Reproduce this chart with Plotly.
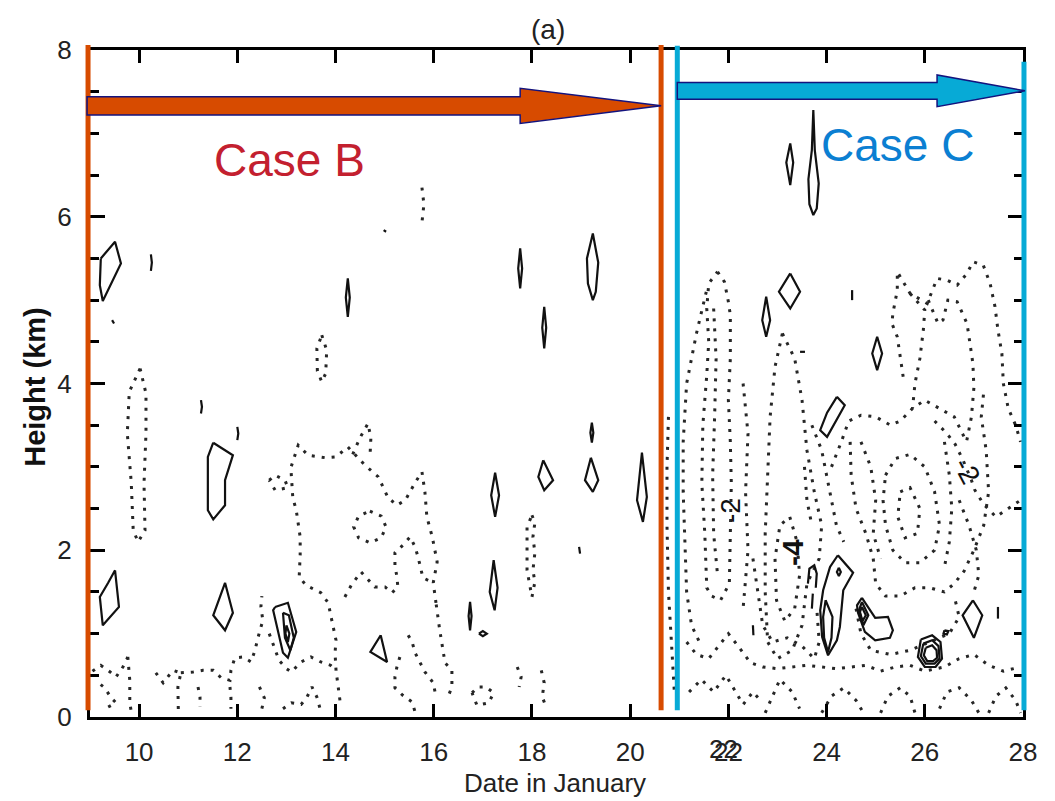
import plotly.graph_objects as go

# ---------------- axes ----------------
X_RANGE = [9, 28]
Y_RANGE = [0, 8]
x_tickvals = [10, 12, 14, 16, 18, 20, 22, 24, 26, 28]
x_ticktext = ["10", "12", "14", "16", "18", "20", "22", "24", "26", "28"]
y_tickvals = [0, 2, 4, 6, 8]
y_ticktext = ["0", "2", "4", "6", "8"]

# ---------------- solid (positive) contours: (day, km) ----------------
solid_left_top = [(9.22, 5.50), (9.51, 5.70), (9.63, 5.44), (9.26, 4.99), (9.20, 5.18), (9.22, 5.50)]
solid_left_low = [(9.51, 1.76), (9.59, 1.32), (9.26, 1.10), (9.20, 1.44), (9.37, 1.61), (9.51, 1.76)]
solid_d11_oval = [(11.51, 3.29), (11.91, 3.14), (11.75, 2.84), (11.75, 2.54), (11.51, 2.37), (11.40, 2.48), (11.40, 3.12), (11.51, 3.29)]
solid_d11_kite = [(11.75, 1.61), (11.91, 1.25), (11.75, 1.04), (11.51, 1.22), (11.75, 1.61)]
solid_d13_outer = [(12.77, 1.32), (13.03, 1.37), (13.20, 1.02), (13.03, 0.71), (12.93, 0.77), (12.73, 1.28), (12.77, 1.32)]
solid_d13_inner = [(12.93, 1.25), (13.05, 1.22), (13.15, 0.95), (13.08, 0.80), (12.97, 0.95), (12.93, 1.25)]
solid_d13_core = [(13.00, 1.10), (13.06, 1.00), (13.03, 0.90), (12.98, 1.00), (13.00, 1.10)]
solid_d15_tri = [(14.92, 0.98), (15.05, 0.66), (14.71, 0.78), (14.92, 0.98)]
solid_d14_spin = [(14.25, 5.26), (14.29, 5.03), (14.25, 4.80), (14.21, 5.03), (14.25, 5.26)]
solid_d17_spin = [(17.76, 5.62), (17.80, 5.38), (17.76, 5.14), (17.72, 5.38), (17.76, 5.62)]
solid_d18_spin = [(18.25, 4.92), (18.29, 4.67), (18.25, 4.42), (18.21, 4.67), (18.25, 4.92)]
solid_d19_oval = [(19.24, 5.80), (19.35, 5.45), (19.30, 5.10), (19.24, 5.00), (19.14, 5.20), (19.12, 5.50), (19.24, 5.80)]
solid_d19_spin = [(19.22, 3.53), (19.25, 3.41), (19.22, 3.29), (19.19, 3.41), (19.22, 3.53)]
solid_d19_kite = [(19.20, 3.11), (19.35, 2.84), (19.24, 2.70), (19.08, 2.84), (19.20, 3.11)]
solid_d20_kite = [(20.24, 3.17), (20.34, 2.64), (20.26, 2.34), (20.14, 2.60), (20.24, 3.17)]
solid_d18_kite = [(18.23, 3.08), (18.43, 2.84), (18.25, 2.72), (18.13, 2.88), (18.23, 3.08)]
solid_d17_up = [(17.25, 2.93), (17.33, 2.66), (17.25, 2.40), (17.17, 2.66), (17.25, 2.93)]
solid_d17_low = [(17.22, 1.88), (17.30, 1.55), (17.24, 1.28), (17.14, 1.50), (17.22, 1.88)]
solid_d16_spin = [(16.74, 1.38), (16.77, 1.21), (16.74, 1.04), (16.71, 1.21), (16.74, 1.38)]
solid_d17_dash = [(16.92, 1.00), (17.00, 1.03), (17.08, 1.00), (17.00, 0.97), (16.92, 1.00)]
solid_d23_tall = [(23.73, 7.28), (23.76, 6.80), (23.84, 6.40), (23.80, 6.10), (23.73, 6.02), (23.65, 6.15), (23.63, 6.45), (23.70, 6.80), (23.73, 7.28)]
solid_d23_dia1 = [(23.26, 6.88), (23.32, 6.65), (23.26, 6.38), (23.18, 6.65), (23.26, 6.88)]
solid_d23_dia2 = [(23.26, 5.32), (23.46, 5.10), (23.26, 4.90), (23.03, 5.10), (23.26, 5.32)]
solid_d22_spin = [(22.77, 5.04), (22.85, 4.76), (22.77, 4.56), (22.69, 4.76), (22.77, 5.04)]
solid_d25_spin = [(25.03, 4.56), (25.13, 4.36), (25.03, 4.16), (24.93, 4.36), (25.03, 4.56)]
solid_d24_ell = [(24.21, 3.84), (24.37, 3.74), (24.01, 3.36), (23.87, 3.44), (24.01, 3.65), (24.21, 3.84)]
solid_d24_outer = [(24.23, 1.94), (24.54, 1.73), (24.34, 1.52), (24.32, 1.37), (24.27, 1.08), (24.21, 0.92), (24.03, 0.74),
                   (23.91, 0.96), (23.87, 1.28), (23.93, 1.52), (24.03, 1.73), (24.07, 1.80), (24.23, 1.94)]
solid_d24_inner = [(23.98, 1.40), (24.12, 1.20), (24.10, 0.95), (24.03, 0.78), (23.95, 0.95), (23.93, 1.20), (23.98, 1.40)]
solid_d24_ring = [(24.25, 1.79), (24.29, 1.74), (24.25, 1.69), (24.21, 1.74), (24.25, 1.79)]
solid_d23_hook = [(23.62, 1.60), (23.65, 1.78), (23.75, 1.82), (23.80, 1.72), (23.78, 1.55)]
solid_d23_tick = [(23.72, 1.48), (23.70, 1.30)]
solid_d25_blob = [(24.72, 1.43), (24.99, 1.19), (25.25, 1.20), (25.35, 1.04), (25.29, 0.95), (24.99, 0.92),
                  (24.78, 1.02), (24.64, 1.25), (24.62, 1.34), (24.72, 1.43)]
solid_d25_h1 = [(24.72, 1.38), (24.85, 1.22), (24.75, 1.10), (24.66, 1.28), (24.72, 1.38)]
solid_d25_h2 = [(24.72, 1.32), (24.80, 1.22), (24.73, 1.15), (24.68, 1.26), (24.72, 1.32)]
solid_d26_h1 = [(25.92, 0.93), (26.15, 0.98), (26.32, 0.90), (26.35, 0.70), (26.22, 0.60), (26.00, 0.60), (25.86, 0.72), (25.92, 0.93)]
solid_d26_h2 = [(25.97, 0.88), (26.15, 0.92), (26.28, 0.85), (26.30, 0.70), (26.20, 0.64), (26.02, 0.64), (25.92, 0.73), (25.97, 0.88)]
solid_d26_h3 = [(26.02, 0.83), (26.15, 0.86), (26.24, 0.80), (26.25, 0.71), (26.17, 0.67), (26.05, 0.67), (25.98, 0.74), (26.02, 0.83)]
solid_d26_dot = [(26.40, 1.04), (26.48, 1.03), (26.45, 0.99), (26.38, 1.00), (26.40, 1.04)]
solid_d27_dia = [(26.98, 1.40), (27.17, 1.22), (27.00, 0.95), (26.77, 1.22), (26.98, 1.40)]
solid_small_1 = [(10.24, 5.55), (10.26, 5.45), (10.24, 5.35)]
solid_small_2 = [(11.26, 3.80), (11.28, 3.72), (11.26, 3.64)]
solid_small_3 = [(12.00, 3.48), (12.02, 3.40), (12.00, 3.32)]
solid_small_4 = [(9.45, 4.76), (9.49, 4.72)]
solid_small_5 = [(14.98, 5.84), (15.03, 5.82)]
solid_small_6 = [(18.96, 2.04), (18.98, 1.96)]
solid_small_7 = [(22.50, 1.10), (22.51, 0.98)]
solid_small_8 = [(23.46, 4.38), (23.56, 4.38)]
solid_small_9 = [(24.52, 5.12), (24.52, 5.00)]
solid_small_10 = [(27.49, 1.32), (27.49, 1.18)]

SOLID = [solid_left_top, solid_left_low, solid_d11_oval, solid_d11_kite, solid_d13_outer, solid_d13_inner,
         solid_d13_core, solid_d15_tri, solid_d14_spin, solid_d17_spin, solid_d18_spin, solid_d19_oval,
         solid_d19_spin, solid_d19_kite, solid_d20_kite, solid_d18_kite, solid_d17_up, solid_d17_low,
         solid_d16_spin, solid_d17_dash, solid_d23_tall, solid_d23_dia1, solid_d23_dia2, solid_d22_spin,
         solid_d25_spin, solid_d24_ell, solid_d24_outer, solid_d24_inner, solid_d24_ring, solid_d23_hook,
         solid_d23_tick, solid_d25_blob, solid_d25_h1, solid_d25_h2, solid_d26_h1, solid_d26_h2, solid_d26_h3,
         solid_d26_dot, solid_d27_dia, solid_small_1, solid_small_2, solid_small_3, solid_small_4,
         solid_small_5, solid_small_6, solid_small_7, solid_small_8, solid_small_9, solid_small_10]

# ---------------- dotted (negative) contours: (day, km) ----------------
dot_L1 = [(10.02, 4.18), (10.14, 3.88), (10.14, 3.40), (10.10, 2.80), (10.12, 2.24), (9.98, 2.10), (9.88, 2.24),
          (9.84, 2.81), (9.76, 3.40), (9.80, 3.90), (10.02, 4.18)]
dot_L2 = [(13.72, 4.58), (13.82, 4.40), (13.80, 4.12), (13.72, 4.02), (13.63, 4.15), (13.62, 4.42), (13.72, 4.58)]
dot_L3 = [(15.76, 6.35), (15.80, 6.15), (15.76, 5.93)]
dot_M1 = [(14.09, 0.20), (14.01, 0.56), (13.99, 0.77), (14.01, 0.92), (13.91, 1.20), (13.85, 1.37), (13.70, 1.49),
          (13.40, 1.58), (13.26, 1.68), (13.28, 1.94), (13.28, 2.16), (13.20, 2.48), (13.13, 2.63), (13.09, 2.99),
          (13.24, 3.26), (13.44, 3.14), (13.79, 3.11), (14.01, 3.12), (14.25, 3.24), (14.40, 3.14), (14.60, 3.02),
          (14.87, 2.88), (15.07, 2.63), (15.25, 2.54), (15.42, 2.60), (15.62, 2.81), (15.76, 2.94), (15.82, 2.70),
          (15.86, 2.40), (15.97, 2.16), (16.07, 1.86), (15.99, 1.61), (16.05, 1.35)]
dot_M2 = [(14.19, 1.44), (14.32, 1.58), (14.52, 1.74), (14.80, 1.56), (15.01, 1.56), (15.15, 1.49), (15.27, 1.56),
          (15.25, 1.68), (15.21, 1.82), (15.21, 1.97), (15.37, 2.06), (15.52, 2.16), (15.62, 2.04), (15.68, 1.92),
          (15.78, 1.67), (15.99, 1.61)]
dot_M3 = [(14.70, 2.47), (14.93, 2.41), (15.03, 2.28), (14.93, 2.15), (14.70, 2.09), (14.47, 2.15), (14.37, 2.28),
          (14.47, 2.41), (14.70, 2.47)]
dot_M4 = [(12.65, 2.84), (12.77, 2.90), (12.97, 2.84), (13.03, 2.75), (12.77, 2.72), (12.65, 2.84)]
dot_M5 = [(14.35, 3.15), (14.50, 3.35), (14.66, 3.52), (14.72, 3.35), (14.70, 3.10)]
dot_M6 = [(18.00, 2.42), (18.06, 2.33), (18.02, 2.16), (18.06, 1.97), (18.02, 1.76), (18.06, 1.62), (18.00, 1.44),
          (17.90, 1.76), (17.90, 2.00), (17.90, 2.28), (18.00, 2.42)]
dot_B1 = [(9.05, 0.55), (9.22, 0.62), (9.41, 0.54), (9.53, 0.48), (9.67, 0.60), (9.77, 0.72)]
dot_B2 = [(9.77, 0.72), (9.81, 0.44), (9.81, 0.32), (9.81, 0.17), (9.85, 0.03)]
dot_B3 = [(9.37, 0.12), (9.53, 0.17), (9.43, 0.23), (9.30, 0.35), (9.15, 0.42)]
dot_B4 = [(10.34, 0.53), (10.49, 0.41), (10.69, 0.56), (10.85, 0.53), (10.79, 0.36), (10.79, 0.17), (10.80, 0.03)]
dot_B5 = [(10.85, 0.53), (11.10, 0.54), (11.30, 0.56), (11.51, 0.56), (11.67, 0.47), (11.85, 0.44), (11.87, 0.56),
          (11.95, 0.71), (12.12, 0.72), (12.28, 0.66), (12.36, 0.80), (12.42, 0.95), (12.52, 1.16), (12.48, 1.32),
          (12.50, 1.45)]
dot_B6 = [(11.20, 0.36), (11.24, 0.24), (11.24, 0.12)]
dot_B7 = [(11.85, 0.36), (11.87, 0.24), (11.87, 0.10)]
dot_B8 = [(12.45, 0.36), (12.55, 0.23), (12.50, 0.10)]
dot_B9 = [(12.65, 1.00), (12.75, 0.85), (12.85, 0.68), (13.00, 0.58), (13.10, 0.54), (13.30, 0.66), (13.50, 0.72),
          (13.70, 0.66), (13.90, 0.62), (14.01, 0.56)]
dot_B10 = [(12.93, 0.10), (13.10, 0.17), (13.30, 0.15), (13.42, 0.24), (13.52, 0.36), (13.62, 0.24), (13.68, 0.11)]
dot_B11 = [(15.48, 0.98), (15.56, 0.90), (15.62, 0.77), (15.72, 0.65), (15.82, 0.54), (15.99, 0.41), (16.03, 0.29)]
dot_B12 = [(16.05, 1.35), (16.12, 1.05), (16.23, 0.65), (16.37, 0.56), (16.37, 0.36), (16.29, 0.24)]
dot_B13 = [(15.31, 0.72), (15.25, 0.60), (15.21, 0.48), (15.21, 0.35), (15.37, 0.26), (15.56, 0.18), (15.62, 0.06)]
dot_B14 = [(16.78, 0.29), (16.90, 0.36), (17.06, 0.36), (17.22, 0.29), (17.12, 0.17), (16.88, 0.14), (16.78, 0.29)]
dot_B15 = [(17.70, 0.60), (17.78, 0.48), (17.74, 0.36)]
dot_B16 = [(18.19, 0.56), (18.25, 0.41), (18.21, 0.24), (18.29, 0.12)]
dot_B17 = [(20.78, 3.60), (20.75, 3.00), (20.75, 2.30), (20.78, 1.50), (20.85, 0.80), (20.90, 0.30)]
dot_C1 = [(21.78, 5.34), (21.92, 5.22), (22.00, 4.98), (22.04, 4.82), (22.04, 4.30), (22.00, 3.80), (22.04, 3.30),
          (22.06, 2.80), (22.04, 2.20), (22.02, 1.60), (21.84, 1.40), (21.66, 1.45), (21.56, 1.55), (21.52, 2.20),
          (21.46, 2.80), (21.48, 3.50), (21.56, 4.10), (21.60, 4.50), (21.56, 4.90), (21.60, 5.20), (21.78, 5.34)]
dot_C2 = [(21.55, 5.10), (21.35, 4.60), (21.15, 4.00), (21.08, 3.30), (21.08, 2.70), (21.12, 2.10), (21.15, 1.50),
          (21.25, 1.10), (21.45, 0.85)]
dot_C3 = [(23.10, 4.60), (23.35, 4.30), (23.50, 3.80), (23.60, 3.20), (23.75, 2.70), (23.90, 2.30), (23.85, 1.90),
          (23.60, 1.60), (23.50, 1.10), (23.30, 0.80), (23.00, 0.70), (22.80, 0.90), (22.75, 1.50), (22.75, 2.20),
          (22.80, 2.90), (22.85, 3.60), (22.95, 4.20), (23.10, 4.60)]
dot_C4 = [(23.25, 2.40), (23.40, 2.10), (23.45, 1.70), (23.35, 1.30), (23.15, 1.15), (22.98, 1.40), (22.95, 1.90),
          (23.05, 2.30), (23.25, 2.40)]
dot_C5 = [(25.56, 4.08), (25.50, 4.32), (25.44, 4.56), (25.33, 4.72), (25.35, 4.84), (25.44, 5.12), (25.44, 5.34),
          (25.70, 5.08), (26.05, 4.96), (26.25, 5.26), (26.45, 5.24), (26.66, 5.18), (26.86, 5.32), (26.98, 5.46),
          (27.19, 5.42), (27.33, 5.20), (27.43, 4.92), (27.49, 4.64), (27.57, 4.36), (27.60, 4.00), (27.70, 3.70),
          (27.85, 3.50), (27.95, 3.30)]
dot_C6 = [(25.70, 5.08), (25.86, 4.98), (26.00, 4.88), (25.97, 4.64), (25.90, 4.30), (25.80, 4.00), (25.75, 3.70)]
dot_C7 = [(26.07, 5.00), (26.27, 4.72), (26.37, 4.76), (26.47, 5.00), (26.66, 4.98), (26.86, 4.72), (26.92, 4.48),
          (26.98, 4.24), (27.00, 3.95), (26.95, 3.60), (26.85, 3.30)]
dot_C8 = [(24.10, 3.00), (24.30, 3.30), (24.45, 3.55), (24.70, 3.62), (25.00, 3.60), (25.30, 3.50), (25.50, 3.55),
          (25.75, 3.70), (26.00, 3.80), (26.30, 3.70), (26.60, 3.60), (26.85, 3.30)]
dot_C9 = [(24.48, 3.30), (24.50, 2.90), (24.60, 2.50), (24.80, 2.20), (24.95, 1.90), (25.00, 1.60), (25.20, 1.45),
          (25.50, 1.45), (25.80, 1.55), (26.10, 1.55), (26.40, 1.50), (26.60, 1.60), (26.80, 1.75), (27.00, 2.00),
          (27.20, 2.30), (27.30, 2.70), (27.25, 3.20), (27.15, 3.60), (27.20, 3.90)]
dot_C10 = [(25.20, 2.90), (25.40, 3.10), (25.70, 3.15), (26.00, 3.00), (26.20, 2.70), (26.30, 2.30), (26.20, 2.00),
           (25.90, 1.85), (25.60, 1.85), (25.35, 2.00), (25.20, 2.30), (25.15, 2.60), (25.20, 2.90)]
dot_C11 = [(25.50, 2.70), (25.70, 2.75), (25.90, 2.50), (25.85, 2.20), (25.60, 2.15), (25.45, 2.40), (25.50, 2.70)]
dot_C12 = [(26.20, 3.55), (26.45, 3.40), (26.62, 3.27), (26.78, 3.08), (26.95, 2.84), (27.02, 2.72), (27.20, 2.55),
           (27.45, 2.40), (27.70, 2.50), (27.95, 2.60)]
dot_C13 = [(21.15, 0.90), (21.35, 0.75), (21.60, 0.70), (21.80, 0.85), (22.00, 1.00), (22.20, 0.85), (22.45, 0.65),
           (22.70, 0.60), (23.00, 0.58), (23.30, 0.60), (23.60, 0.62), (23.90, 0.60), (24.20, 0.58), (24.50, 0.60),
           (24.80, 0.62), (25.10, 0.55), (25.40, 0.60), (25.70, 0.62), (26.00, 0.55), (26.40, 0.60), (26.70, 0.70),
           (27.00, 0.75), (27.30, 0.62), (27.60, 0.55), (27.95, 0.60)]
dot_C14 = [(21.20, 0.30), (21.45, 0.45), (21.70, 0.30), (21.95, 0.50), (22.15, 0.30), (22.30, 0.15), (22.50, 0.30),
           (22.65, 0.20)]
dot_C15 = [(22.75, 0.05), (22.90, 0.25), (23.05, 0.45), (23.30, 0.30), (23.45, 0.10)]
dot_C16 = [(23.90, 0.05), (24.10, 0.25), (24.35, 0.35), (24.60, 0.20), (24.75, 0.05)]
dot_C17 = [(25.10, 0.05), (25.25, 0.25), (25.50, 0.35), (25.70, 0.25), (25.80, 0.05)]
dot_C18 = [(26.30, 0.10), (26.45, 0.30), (26.70, 0.35), (26.95, 0.20), (27.10, 0.05)]
dot_C19 = [(27.30, 0.05), (27.45, 0.25), (27.65, 0.35), (27.85, 0.20), (27.95, 0.05)]
dot_C20 = [(24.60, 1.30), (24.70, 1.00), (24.90, 0.80), (25.30, 0.75), (25.70, 0.80), (26.10, 0.90), (26.50, 1.00),
           (26.70, 1.20), (26.60, 1.45)]
dot_C21 = [(22.50, 1.90), (22.60, 1.50), (22.70, 1.10), (22.90, 0.90), (23.20, 0.95), (23.50, 0.85), (23.75, 0.70),
           (23.85, 0.90), (23.80, 1.30)]
dot_C22 = [(21.70, 4.90), (21.75, 4.30), (21.72, 3.60), (21.68, 2.90), (21.70, 2.20), (21.78, 1.70)]
dot_C23 = [(22.30, 4.00), (22.40, 3.40), (22.35, 2.70), (22.40, 2.00), (22.30, 1.30)]
dot_C24 = [(24.70, 3.30), (24.90, 3.00), (25.00, 2.60), (24.95, 2.20), (25.10, 1.90)]
dot_C25 = [(26.40, 3.30), (26.50, 2.90), (26.55, 2.50), (26.50, 2.10), (26.40, 1.80)]
dot_C26 = [(26.70, 2.60), (26.90, 2.30), (27.05, 2.00), (27.10, 1.70), (27.00, 1.50)]
dot_C27 = [(23.70, 3.50), (23.90, 3.20), (24.00, 2.90), (24.10, 2.60), (24.20, 2.30), (24.35, 2.10)]
dot_C28 = [(23.55, 3.00), (23.60, 2.60), (23.70, 2.30)]

DOTTED = [dot_L1, dot_L2, dot_L3, dot_M1, dot_M2, dot_M3, dot_M4, dot_M5, dot_M6, dot_B1, dot_B2, dot_B3, dot_B4,
          dot_B5, dot_B6, dot_B7, dot_B8, dot_B9, dot_B10, dot_B11, dot_B12, dot_B13, dot_B14, dot_B15, dot_B16,
          dot_B17, dot_C1, dot_C2, dot_C3, dot_C4, dot_C5, dot_C6, dot_C7, dot_C8, dot_C9, dot_C10, dot_C11,
          dot_C12, dot_C13, dot_C14, dot_C15, dot_C16, dot_C17, dot_C18, dot_C19, dot_C20, dot_C21, dot_C22,
          dot_C23, dot_C24, dot_C25, dot_C26, dot_C27, dot_C28]

# contour labels
label_days = [22.03, 23.32, 26.86]
label_heights = [2.48, 1.97, 2.96]
label_texts = ["-2", "<b>-4</b>", "-2"]
label_angles = [-90, -90, 62]
label_sizes = [28, 30, 28]

# ---------------- overlay annotations (day, km) ----------------
orange_line_days = [8.96, 20.63]
orange_line_top = [8.06, 8.06]
cyan_line_days = [20.96, 28.02]
cyan_line_top = [8.05, 7.86]
line_bottom = 0.08
orange_arrow = dict(x0=8.94, xh=17.76, xt=20.63, yc=7.33, shaft=0.11, head=0.21)
cyan_arrow = dict(x0=20.96, xh=26.25, xt=28.04, yc=7.51, shaft=0.10, head=0.19)
case_b_pos = (13.07, 6.68)
case_c_pos = (25.44, 6.86)

ORANGE = "#D74B00"
CYAN = "#07AAD6"
NAVY = "#13137E"


def xp(d):
    return (d - X_RANGE[0]) / (X_RANGE[1] - X_RANGE[0])


def yp(h):
    return (h - Y_RANGE[0]) / (Y_RANGE[1] - Y_RANGE[0])


fig = go.Figure()

for c in DOTTED:
    fig.add_trace(go.Scatter(x=[p[0] for p in c], y=[p[1] for p in c], mode="lines",
                             line=dict(color="#262626", width=3, dash="3px,7px"),
                             hoverinfo="skip", showlegend=False))
for c in SOLID:
    fig.add_trace(go.Scatter(x=[p[0] for p in c], y=[p[1] for p in c], mode="lines",
                             line=dict(color="#111111", width=2.2),
                             hoverinfo="skip", showlegend=False))

shapes = []
for d, top in zip(orange_line_days, orange_line_top):
    shapes.append(dict(type="line", xref="paper", yref="paper", x0=xp(d), x1=xp(d), y0=yp(line_bottom), y1=yp(top),
                       line=dict(color=ORANGE, width=5)))
for d, top in zip(cyan_line_days, cyan_line_top):
    shapes.append(dict(type="line", xref="paper", yref="paper", x0=xp(d), x1=xp(d), y0=yp(line_bottom), y1=yp(top),
                       line=dict(color=CYAN, width=5)))


def arrow_path(a):
    pts = [(a["x0"], a["yc"] + a["shaft"]), (a["xh"], a["yc"] + a["shaft"]), (a["xh"], a["yc"] + a["head"]),
           (a["xt"], a["yc"]), (a["xh"], a["yc"] - a["head"]), (a["xh"], a["yc"] - a["shaft"]),
           (a["x0"], a["yc"] - a["shaft"])]
    return "M " + " L ".join(f"{xp(x):.5f},{yp(y):.5f}" for x, y in pts) + " Z"


shapes.append(dict(type="path", xref="paper", yref="paper", path=arrow_path(orange_arrow),
                   fillcolor=ORANGE, line=dict(color=NAVY, width=1.5)))
shapes.append(dict(type="path", xref="paper", yref="paper", path=arrow_path(cyan_arrow),
                   fillcolor=CYAN, line=dict(color=NAVY, width=1.5)))

annotations = []
for d, h, t, a, s in zip(label_days, label_heights, label_texts, label_angles, label_sizes):
    annotations.append(dict(x=d, y=h, xref="x", yref="y", text=t, showarrow=False, textangle=a,
                            xanchor="center", yanchor="middle",
                            font=dict(family="Liberation Sans", size=s, color="#111111")))
annotations.append(dict(x=case_b_pos[0], y=case_b_pos[1], xref="x", yref="y", text="Case B", showarrow=False,
                        xanchor="center", yanchor="middle",
                        font=dict(family="Liberation Sans, Arial", size=46, color="#C3202F")))
annotations.append(dict(x=case_c_pos[0], y=case_c_pos[1], xref="x", yref="y", text="Case C", showarrow=False,
                        xanchor="center", yanchor="middle",
                        font=dict(family="Liberation Sans, Arial", size=46, color="#0B7FD2")))
annotations.append(dict(x=0.491, y=1.03, xref="paper", yref="paper", text="(a)", showarrow=False,
                        xanchor="center", yanchor="middle",
                        font=dict(family="Liberation Sans", size=28, color="#222222")))
annotations.append(dict(x=-0.059, y=0.495, xref="paper", yref="paper", text="<b>Height (km)</b>", showarrow=False,
                        xanchor="center", yanchor="middle",
                        textangle=-90, font=dict(family="Liberation Sans", size=29, color="#111111")))
annotations.append(dict(x=0.498, y=-0.0985, xref="paper", yref="paper", text="Date in January", showarrow=False,
                        xanchor="center", yanchor="middle",
                        font=dict(family="Liberation Sans", size=26, color="#222222")))
# the doubled "22" tick label seen in the scan
annotations.append(dict(x=22, y=0, xref="x", yref="paper", text="22", showarrow=False, xshift=-5,
                        xanchor="center", yanchor="top", yshift=-15,
                        font=dict(family="Liberation Sans", size=26, color="#222222")))

axis_common = dict(showline=True, linecolor="black", linewidth=3, mirror="ticks", ticks="inside",
                   tickcolor="black", tickwidth=3, showgrid=False, zeroline=False,
                   tickfont=dict(family="Liberation Sans", size=26, color="#222222"))

fig.update_layout(
    width=1055, height=801, autosize=False,
    margin=dict(l=90, r=32, t=50, b=84),
    paper_bgcolor="white", plot_bgcolor="white",
    xaxis=dict(range=X_RANGE, tickvals=x_tickvals, ticktext=x_ticktext, ticklen=13,
               ticklabelstandoff=10, **axis_common),
    yaxis=dict(range=Y_RANGE, tickvals=y_tickvals, ticktext=y_ticktext, ticklen=15,
               ticklabelstandoff=10,
               minor=dict(dtick=0.5, ticklen=9, tickwidth=3, ticks="inside", tickcolor="black"),
               **axis_common),
    shapes=shapes,
    annotations=annotations,
    showlegend=False,
)

fig.write_html("out.html")
